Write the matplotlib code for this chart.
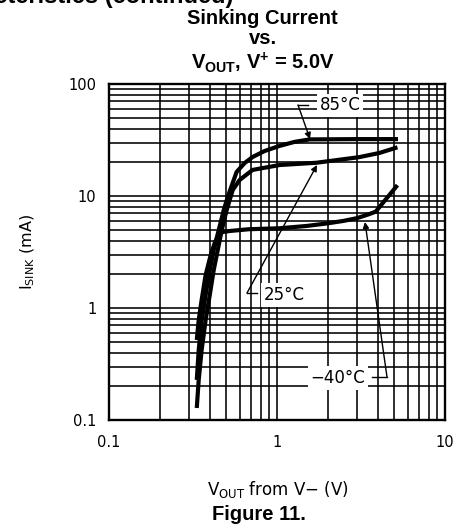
import matplotlib
matplotlib.use("Agg")
import matplotlib.pyplot as plt
from matplotlib.ticker import LogLocator, NullFormatter, FixedLocator, FixedFormatter

plt.rcParams['mathtext.fontset'] = 'custom'
plt.rcParams['mathtext.rm'] = 'DejaVu Sans'
plt.rcParams['mathtext.bf'] = 'Liberation Sans:bold'

# ---- data ----
v_85 = [0.333, 0.342, 0.356, 0.376, 0.398, 0.420, 0.450, 0.482, 0.509, 0.545, 0.575, 0.642, 0.716, 0.843, 1.035, 1.27, 1.56, 3.0, 5.25]
i_85 = [0.228, 0.422, 0.781, 1.31, 2.18, 3.30, 4.97, 7.50, 9.80, 13.1, 16.4, 19.7, 22.3, 25.2, 28.0, 30.4, 32.0, 32.2, 32.2]

v_25 = [0.333, 0.342, 0.356, 0.376, 0.398, 0.420, 0.444, 0.469, 0.502, 0.523, 0.545, 0.599, 0.716, 1.035, 1.71, 3.07, 4.06, 5.21]
i_25 = [0.128, 0.228, 0.422, 0.781, 1.31, 2.18, 3.30, 4.97, 7.50, 9.21, 11.3, 13.9, 17.1, 18.9, 19.8, 22.2, 24.2, 27.2]

v_m40 = [0.333, 0.342, 0.356, 0.376, 0.403, 0.426, 0.450, 0.475, 0.523, 0.68, 1.03, 1.5, 2.0, 2.5, 3.0, 3.5, 3.87, 4.3, 4.8, 5.21]
i_m40 = [0.518, 0.781, 1.18, 1.97, 2.97, 3.81, 4.49, 4.77, 4.87, 5.05, 5.15, 5.4, 5.7, 6.0, 6.35, 6.85, 7.25, 8.8, 10.75, 12.5]

x_ticks = [0.1, 1, 10]
x_tick_labels = ["0.1", "1", "10"]
y_ticks = [0.1, 1, 10, 100]
y_tick_labels = ["0.1", "1", "10", "100"]

W, H = 458, 529
fig = plt.figure(figsize=(W / 100, H / 100), dpi=100)
ax = fig.add_axes([109 / W, 1 - 420 / H, (445 - 109) / W, (420 - 84) / H])

ax.set_xscale('log')
ax.set_yscale('log')
ax.set_xlim(0.1, 10)
ax.set_ylim(0.1, 100)

ax.xaxis.set_major_locator(FixedLocator(x_ticks))
ax.xaxis.set_major_formatter(FixedFormatter(x_tick_labels))
ax.yaxis.set_major_locator(FixedLocator(y_ticks))
ax.yaxis.set_major_formatter(FixedFormatter(y_tick_labels))
ax.xaxis.set_minor_locator(LogLocator(base=10, subs=range(2, 10)))
ax.yaxis.set_minor_locator(LogLocator(base=10, subs=range(2, 10)))
ax.xaxis.set_minor_formatter(NullFormatter())
ax.yaxis.set_minor_formatter(NullFormatter())
ax.tick_params(which='both', length=0, labelsize=10.5)
ax.tick_params(axis='x', pad=11)
ax.tick_params(axis='y', pad=9)
for lab in ax.get_xticklabels() + ax.get_yticklabels():
    lab.set_family('DejaVu Sans')

ax.grid(True, which='both', color='black', lw=1.15)
ax.set_axisbelow(True)
for s in ax.spines.values():
    s.set_linewidth(1.7)

lw = 3.0
ax.plot(v_85, i_85, color='black', lw=lw, solid_capstyle='butt', zorder=3)
ax.plot(v_25, i_25, color='black', lw=lw, solid_capstyle='butt', zorder=3)
ax.plot(v_m40, i_m40, color='black', lw=lw, solid_capstyle='butt', zorder=3)

def px2data(px, py):
    return ax.transData.inverted().transform(
        fig.transFigure.transform((px / W, 1 - py / H)))

box = dict(facecolor='white', edgecolor='none', pad=2.0)
lab_kw = dict(fontsize=12, family='DejaVu Sans', ha='center', va='center', zorder=5, bbox=box)
akw = dict(arrowstyle='-|>', color='black', lw=1.0, mutation_scale=9, shrinkA=0, shrinkB=0)

# 85 C label and leader
ax.text(*px2data(340, 105.5), "85°C", **lab_kw)
ax.annotate("", xy=px2data(310, 139), xytext=px2data(298, 105), arrowprops=akw, zorder=5)
ax.plot(*zip(px2data(298, 105), px2data(308, 105)), color='black', lw=1.0, zorder=5)

# 25 C label and leader
ax.text(*px2data(284, 295), "25°C", **lab_kw)
ax.annotate("", xy=px2data(317, 165), xytext=px2data(247, 293), arrowprops=akw, zorder=5)
ax.plot(*zip(px2data(247, 293), px2data(257, 293)), color='black', lw=1.0, zorder=5)

# -40 C label and leader
ax.text(*px2data(338, 378), "\u221240°C", **lab_kw)
ax.annotate("", xy=px2data(365, 222), xytext=px2data(387, 377), arrowprops=akw, zorder=5)
ax.plot(*zip(px2data(372, 377), px2data(387, 377)), color='black', lw=1.0, zorder=5)

fig.text(28 / W, 1 - 252 / H, r"I$_{\mathrm{SINK}}$ (mA)", fontsize=11.5, family='DejaVu Sans',
         rotation=90, ha='center', va='center')

fig.text(278 / W, 1 - 489 / H, "V$_{\\mathrm{OUT}}$ from V\u2212 (V)",
         fontsize=12, family='DejaVu Sans', ha='center', va='center')
fig.text(259 / W, 1 - 514 / H, "Figure 11.", fontsize=14.5, family='Liberation Sans',
         fontweight='bold', ha='center', va='center')

tkw = dict(fontsize=14.5, family='Liberation Sans', fontweight='bold', ha='center', va='center')
fig.text(262.5 / W, 1 - 19 / H, "Sinking Current", **tkw)
fig.text(262.5 / W, 1 - 39 / H, "vs.", **tkw)
fig.text(262.5 / W, 1 - 63 / H, r"V$_{\mathbf{OUT}}$, V$^{\mathbf{+}}$ = 5.0V", **tkw)

fig.text(233 / W, 1 - 2.5 / H, "Typical Characteristics (continued)", fontsize=17,
         family='Liberation Sans', fontweight='bold', ha='right', va='baseline')

fig.savefig("out.png", dpi=100)
